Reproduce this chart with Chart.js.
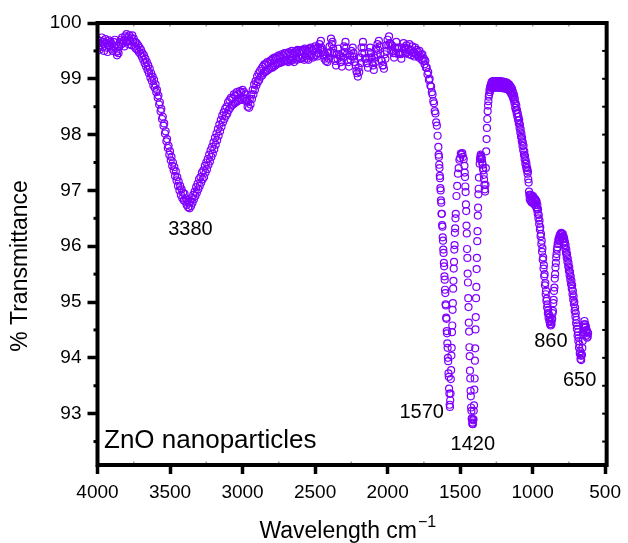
<!DOCTYPE html>
<html>
<head>
<meta charset="utf-8">
<script src="https://cdn.jsdelivr.net/npm/chart.js@4.4.1/dist/chart.umd.min.js"></script>
<style>
  html, body { margin: 0; padding: 0; background: #ffffff; }
  #wrap { width: 628px; height: 543px; position: relative; }
</style>
</head>
<body>
<div id="wrap"><canvas id="c" width="628" height="543"></canvas></div>
<script>
// ---- Data ----
// Segment A: 4000 -> 1705 cm-1, every 5 cm-1 (20 values = 100 cm-1 per row)
const segAStart = 4000, segAStep = 5;
const transA = [
  99.70, 99.55, 99.64, 99.52, 99.68, 99.60, 99.74, 99.57, 99.66, 99.50, 99.62, 99.71, 99.56, 99.64, 99.48, 99.60, 99.69, 99.58, 99.66, 99.54,
  99.62, 99.50, 99.66, 99.58, 99.70, 99.55, 99.48, 99.42, 99.50, 99.46, 99.58, 99.66, 99.70, 99.62, 99.74, 99.64, 99.68, 99.58, 99.76, 99.66,
  99.80, 99.66, 99.74, 99.62, 99.78, 99.68, 99.74, 99.60, 99.78, 99.66, 99.72, 99.58, 99.66, 99.54, 99.64, 99.52, 99.60, 99.48, 99.56, 99.45,
  99.52, 99.40, 99.46, 99.34, 99.42, 99.28, 99.36, 99.22, 99.30, 99.16, 99.24, 99.10, 99.18, 99.02, 99.10, 98.96, 99.04, 98.88, 98.98, 98.84,
  98.90, 98.76, 98.80, 98.66, 98.70, 98.54, 98.58, 98.42, 98.46, 98.28, 98.32, 98.16, 98.20, 98.02, 98.06, 97.88, 97.92, 97.76, 97.80, 97.64,
  97.70, 97.54, 97.60, 97.44, 97.50, 97.36, 97.42, 97.26, 97.34, 97.18, 97.24, 97.08, 97.16, 97.00, 97.08, 96.92, 97.02, 96.86, 96.96, 96.82,
  96.94, 96.80, 96.86, 96.74, 96.82, 96.70, 96.78, 96.68, 96.80, 96.72, 96.86, 96.78, 96.92, 96.84, 96.98, 96.90, 97.06, 96.96, 97.12, 97.02,
  97.20, 97.08, 97.24, 97.14, 97.32, 97.20, 97.36, 97.24, 97.44, 97.32, 97.50, 97.38, 97.56, 97.46, 97.64, 97.52, 97.72, 97.60, 97.78, 97.66,
  97.86, 97.74, 97.94, 97.82, 98.02, 97.90, 98.10, 97.98, 98.18, 98.06, 98.26, 98.14, 98.34, 98.22, 98.40, 98.28, 98.46, 98.34, 98.50, 98.38,
  98.58, 98.44, 98.62, 98.48, 98.66, 98.52, 98.64, 98.54, 98.72, 98.56, 98.70, 98.58, 98.76, 98.60, 98.72, 98.62, 98.78, 98.64, 98.76, 98.62,
  98.80, 98.66, 98.76, 98.64, 98.72, 98.60, 98.62, 98.50, 98.58, 98.48, 98.64, 98.54, 98.72, 98.64, 98.80, 98.72, 98.90, 98.80, 98.96, 98.88,
  99.04, 98.94, 99.10, 98.98, 99.14, 99.04, 99.18, 99.06, 99.22, 99.10, 99.26, 99.12, 99.26, 99.14, 99.30, 99.16, 99.28, 99.18, 99.32, 99.20,
  99.34, 99.20, 99.36, 99.22, 99.38, 99.24, 99.36, 99.26, 99.40, 99.28, 99.42, 99.28, 99.40, 99.30, 99.44, 99.30, 99.42, 99.32, 99.46, 99.32,
  99.46, 99.32, 99.44, 99.30, 99.48, 99.34, 99.46, 99.32, 99.50, 99.34, 99.46, 99.30, 99.48, 99.36, 99.50, 99.34, 99.52, 99.38, 99.48, 99.36,
  99.50, 99.36, 99.52, 99.38, 99.50, 99.34, 99.54, 99.40, 99.52, 99.36, 99.50, 99.34, 99.54, 99.40, 99.56, 99.42, 99.52, 99.38, 99.54, 99.40,
  99.58, 99.42, 99.54, 99.40, 99.56, 99.46, 99.62, 99.54, 99.68, 99.56, 99.52, 99.42, 99.48, 99.36, 99.44, 99.32, 99.40, 99.30, 99.46, 99.36,
  99.58, 99.48, 99.72, 99.62, 99.66, 99.54, 99.46, 99.36, 99.32, 99.24, 99.44, 99.36, 99.54, 99.44, 99.40, 99.30, 99.30, 99.22, 99.46, 99.38,
  99.58, 99.48, 99.66, 99.56, 99.44, 99.34, 99.30, 99.22, 99.42, 99.34, 99.50, 99.40, 99.56, 99.46, 99.40, 99.30, 99.24, 99.14, 99.10, 99.04,
  99.20, 99.12, 99.38, 99.28, 99.56, 99.46, 99.66, 99.56, 99.46, 99.36, 99.36, 99.28, 99.28, 99.20, 99.48, 99.38, 99.56, 99.46, 99.38, 99.30,
  99.24, 99.16, 99.38, 99.30, 99.54, 99.44, 99.62, 99.52, 99.68, 99.58, 99.44, 99.34, 99.32, 99.24, 99.24, 99.18, 99.44, 99.36, 99.60, 99.50,
  99.70, 99.60, 99.76, 99.64, 99.62, 99.52, 99.60, 99.50, 99.46, 99.38, 99.56, 99.46, 99.66, 99.56, 99.54, 99.44, 99.56, 99.46, 99.44, 99.36,
  99.56, 99.46, 99.64, 99.54, 99.56, 99.46, 99.60, 99.48, 99.54, 99.44, 99.62, 99.50, 99.52, 99.42, 99.58, 99.46, 99.48, 99.40, 99.56, 99.44,
  99.52, 99.42, 99.48, 99.38, 99.50, 99.40, 99.44, 99.34, 99.44, 99.32, 99.36, 99.26, 99.32, 99.20, 99.20, 99.08, 99.12, 98.98, 99.00, 98.88
];
// Segment B: 1700 -> 1655 cm-1, every 5 cm-1
const segBStart = 1700, segBStep = 5;
const transB = [98.86, 98.76, 98.72, 98.60, 98.56, 98.42, 98.38, 98.22, 98.16, 97.98];
// Segment C: 1650 -> 1530 cm-1, every 2 cm-1 (band at 1570)
const segCStart = 1650, segCStep = 2;
const transC = [
  97.78, 97.64, 97.60, 97.46, 97.40, 97.26, 97.22, 97.04, 97.00, 96.82,
  96.78, 96.58, 96.58, 96.38, 96.35, 96.16, 96.10, 95.94, 95.88, 95.70,
  95.64, 95.46, 95.40, 95.22, 95.16, 94.96, 94.94, 94.72, 94.70, 94.48,
  94.44, 94.26, 94.18, 94.00, 93.94, 93.72, 93.66, 93.45, 93.36, 93.16,
  93.12, 93.24, 93.36, 93.62, 93.78, 94.04, 94.18, 94.46, 94.58, 94.86,
  94.98, 95.24, 95.38, 95.60, 95.72, 95.94, 96.02, 96.24, 96.32, 96.50,
  96.58
];
// Segment D: 1525 -> 1475 cm-1, every 5 cm-1
const segDStart = 1525, segDStep = 5;
const transD = [96.90, 97.08, 97.30, 97.40, 97.55, 97.58, 97.66, 97.64, 97.67, 97.60, 97.56];
// Segment E: 1470 -> 1370 cm-1, every 2 cm-1 (band at 1420)
const segEStart = 1470, segEStep = 2;
const transE = [
  97.44, 97.32, 97.24, 97.07, 96.97, 96.75, 96.63, 96.37, 96.23, 95.95,
  95.79, 95.51, 95.35, 95.07, 94.91, 94.63, 94.47, 94.19, 94.03, 93.77,
  93.63, 93.41, 93.31, 93.11, 93.05, 92.91, 92.90, 92.82, 92.84, 92.81,
  92.88, 92.90, 93.05, 93.15, 93.43, 93.63, 93.95, 94.17, 94.51, 94.73,
  95.07, 95.27, 95.59, 95.79, 96.09, 96.27, 96.55, 96.69, 96.93, 97.03,
  97.23
];
// Segment F: 1365 -> 617.5 cm-1, every 2.5 cm-1 (20 values = 50 cm-1 per row)
const segFStart = 1365, segFStep = 2.5;
const transF = [
  97.48, 97.56, 97.60, 97.64, 97.62, 97.58, 97.56, 97.50, 97.46, 97.40, 97.36, 97.28, 97.20, 97.10, 97.02, 96.98, 97.10, 97.40, 97.70, 97.92,
  98.12, 98.28, 98.42, 98.52, 98.60, 98.68, 98.72, 98.80, 98.76, 98.86, 98.80, 98.90, 98.84, 98.94, 98.86, 98.95, 98.85, 98.96, 98.86, 98.95,
  98.84, 98.96, 98.85, 98.95, 98.84, 98.96, 98.86, 98.94, 98.84, 98.95, 98.85, 98.96, 98.84, 98.94, 98.85, 98.95, 98.84, 98.96, 98.85, 98.94,
  98.84, 98.95, 98.85, 98.94, 98.83, 98.95, 98.84, 98.93, 98.83, 98.94, 98.84, 98.93, 98.82, 98.92, 98.83, 98.93, 98.82, 98.91, 98.81, 98.90,
  98.80, 98.90, 98.79, 98.88, 98.77, 98.86, 98.75, 98.84, 98.72, 98.82, 98.70, 98.78, 98.66, 98.74, 98.62, 98.70, 98.56, 98.64, 98.48, 98.56,
  98.44, 98.52, 98.38, 98.44, 98.32, 98.38, 98.26, 98.32, 98.20, 98.26, 98.12, 98.18, 98.04, 98.10, 97.96, 98.02, 97.88, 97.94, 97.80, 97.86,
  97.72, 97.80, 97.64, 97.70, 97.56, 97.62, 97.48, 97.54, 97.42, 97.48, 97.36, 97.40, 97.30, 97.34, 97.20, 97.14, 96.98, 96.92, 96.84, 96.92,
  96.82, 96.92, 96.80, 96.90, 96.78, 96.88, 96.80, 96.90, 96.78, 96.86, 96.76, 96.86, 96.74, 96.84, 96.74, 96.82, 96.70, 96.80, 96.66, 96.74,
  96.58, 96.66, 96.50, 96.56, 96.40, 96.46, 96.30, 96.34, 96.18, 96.22, 96.04, 96.10, 95.90, 95.96, 95.76, 95.80, 95.60, 95.66, 95.46, 95.50,
  95.30, 95.34, 95.14, 95.20, 95.02, 95.06, 94.90, 94.96, 94.80, 94.86, 94.72, 94.78, 94.66, 94.72, 94.60, 94.66, 94.58, 94.64, 94.60, 94.68,
  94.70, 94.80, 94.84, 94.98, 95.04, 95.20, 95.26, 95.42, 95.50, 95.62, 95.70, 95.80, 95.86, 95.94, 95.98, 96.04, 96.04, 96.12, 96.10, 96.16,
  96.12, 96.20, 96.14, 96.22, 96.16, 96.24, 96.16, 96.22, 96.14, 96.22, 96.12, 96.18, 96.08, 96.14, 96.02, 96.08, 95.96, 96.02, 95.88, 95.94,
  95.80, 95.86, 95.72, 95.78, 95.64, 95.70, 95.56, 95.62, 95.48, 95.54, 95.40, 95.46, 95.32, 95.38, 95.24, 95.30, 95.14, 95.20, 95.04, 95.10,
  94.96, 95.00, 94.84, 94.90, 94.74, 94.80, 94.62, 94.68, 94.52, 94.58, 94.40, 94.46, 94.30, 94.36, 94.18, 94.24, 94.08, 94.12, 93.98, 94.04,
  93.96, 94.04, 94.06, 94.18, 94.30, 94.42, 94.46, 94.56, 94.60, 94.66, 94.54, 94.60, 94.48, 94.56, 94.40, 94.50, 94.36, 94.46, 94.38, 94.44
];

// Axis ticks
const xTickValues = [4000, 3500, 3000, 2500, 2000, 1500, 1000, 500];
const yTickValues = [93, 94, 95, 96, 97, 98, 99, 100];

// Peak annotations (wavenumber, transmittance anchor)
const peakLabels = ['3380', '1570', '1420', '860', '650'];
const peakLabelX = [3359, 1765, 1412, 874, 676];
const peakLabelY = [96.30, 93.02, 92.44, 94.29, 93.59];
const sampleLabel = 'ZnO nanoparticles';
const sampleLabelX = 3955, sampleLabelY = 92.52;

// ---- Build points ----
const segments = [
  [segAStart, segAStep, transA],
  [segBStart, segBStep, transB],
  [segCStart, segCStep, transC],
  [segDStart, segDStep, transD],
  [segEStart, segEStep, transE],
  [segFStart, segFStep, transF]
];
const points = [];
segments.forEach(([start, step, vals]) => {
  vals.forEach((v, i) => points.push({ x: start - i * step, y: v }));
});

const FONT = '"Liberation Sans", Arial, Helvetica, sans-serif';
const PURPLE = 'rgb(128,0,255)';

const framePlugin = {
  id: 'frame',
  afterDraw(chart) {
    const { ctx, chartArea: a, scales } = chart;
    const xs = scales.x, ys = scales.y;
    ctx.save();
    // minor ticks
    ctx.strokeStyle = '#000';
    ctx.lineWidth = 3;
    for (let v = 92.5; v < 100; v += 1) {
      const y = ys.getPixelForValue(v);
      ctx.beginPath(); ctx.moveTo(a.left - 4, y); ctx.lineTo(a.left + 1, y); ctx.stroke();
    }
    ctx.lineWidth = 2;
    for (let v = 92.5; v < 100; v += 0.5) {
      const y = ys.getPixelForValue(v);
      ctx.beginPath(); ctx.moveTo(a.right - 3, y); ctx.lineTo(a.right + 1, y); ctx.stroke();
    }
    ctx.strokeStyle = '#999';
    ctx.lineWidth = 1.5;
    for (let w = 750; w < 4000; w += 250) {
      const x = xs.getPixelForValue(w);
      ctx.beginPath(); ctx.moveTo(x, a.top); ctx.lineTo(x, a.top + 3.5); ctx.stroke();
      if (w % 500 !== 0) {
        ctx.beginPath(); ctx.moveTo(x, a.bottom); ctx.lineTo(x, a.bottom - 3.5); ctx.stroke();
      }
    }
    // frame
    ctx.strokeStyle = '#000';
    ctx.lineWidth = 4;
    ctx.lineCap = 'square';
    ctx.beginPath();
    ctx.moveTo(a.left, a.top);
    ctx.lineTo(a.right + 1.5, a.top);
    ctx.lineTo(a.right + 1.5, a.bottom);
    ctx.lineTo(a.left, a.bottom);
    ctx.closePath();
    ctx.stroke();

    // annotations
    ctx.fillStyle = '#000';
    ctx.font = '20px ' + FONT;
    ctx.textAlign = 'center';
    ctx.textBaseline = 'middle';
    peakLabels.forEach((t, i) => {
      ctx.fillText(t, xs.getPixelForValue(peakLabelX[i]), ys.getPixelForValue(peakLabelY[i]));
    });
    ctx.font = '26px ' + FONT;
    ctx.textAlign = 'left';
    ctx.fillText(sampleLabel, xs.getPixelForValue(sampleLabelX), ys.getPixelForValue(sampleLabelY));

    // axis titles
    ctx.font = '23px ' + FONT;
    const xt = 'Wavelength cm';
    const xtw = ctx.measureText(xt).width;
    ctx.font = '16px ' + FONT;
    const supw = ctx.measureText('\u22121').width;
    const cx = (a.left + a.right) / 2 - 4;
    const startX = cx - (xtw + supw) / 2;
    ctx.textAlign = 'left';
    ctx.textBaseline = 'alphabetic';
    ctx.font = '23px ' + FONT;
    ctx.fillText(xt, startX, 538);
    ctx.font = '16px ' + FONT;
    ctx.fillText('\u22121', startX + xtw + 1, 527);

    ctx.save();
    ctx.translate(21, 266);
    ctx.rotate(-Math.PI / 2);
    ctx.font = '23px ' + FONT;
    ctx.textAlign = 'center';
    ctx.textBaseline = 'middle';
    ctx.fillText('% Transmittance', 0, 0);
    ctx.restore();
    ctx.restore();
  }
};

new Chart(document.getElementById('c'), {
  type: 'scatter',
  data: {
    datasets: [{
      data: points,
      showLine: false,
      pointStyle: 'circle',
      pointRadius: 3.5,
      pointBorderWidth: 1.2,
      pointBackgroundColor: 'rgba(0,0,0,0)',
      pointBorderColor: PURPLE
    }]
  },
  options: {
    responsive: false,
    animation: false,
    devicePixelRatio: 1,
    layout: { padding: { top: 23, right: 18, left: 0, bottom: 0 } },
    plugins: { legend: { display: false }, tooltip: { enabled: false } },
    scales: {
      x: {
        type: 'linear',
        reverse: true,
        min: 500,
        max: 4000,
        afterFit(s) { s.height = 78; },
        afterBuildTicks(s) { s.ticks = xTickValues.map(v => ({ value: v })); },
        border: { display: false },
        grid: { display: true, drawOnChartArea: false, drawTicks: true, tickLength: 9, tickWidth: 3.5, tickColor: '#000', color: '#000' },
        ticks: { color: '#000', font: { family: FONT, size: 19 }, padding: 7, maxRotation: 0, autoSkip: false, callback: v => String(v) }
      },
      y: {
        type: 'linear',
        min: 92.08,
        max: 100,
        afterFit(s) { s.width = 97.5; },
        afterBuildTicks(s) { s.ticks = yTickValues.map(v => ({ value: v })); },
        border: { display: false },
        grid: { display: true, drawOnChartArea: false, drawTicks: true, tickLength: 10, tickWidth: 3.5, tickColor: '#000', color: '#000' },
        ticks: { color: '#000', font: { family: FONT, size: 19 }, padding: 6, autoSkip: false, callback: v => String(v) }
      }
    }
  },
  plugins: [framePlugin]
});
</script>
</body>
</html>
